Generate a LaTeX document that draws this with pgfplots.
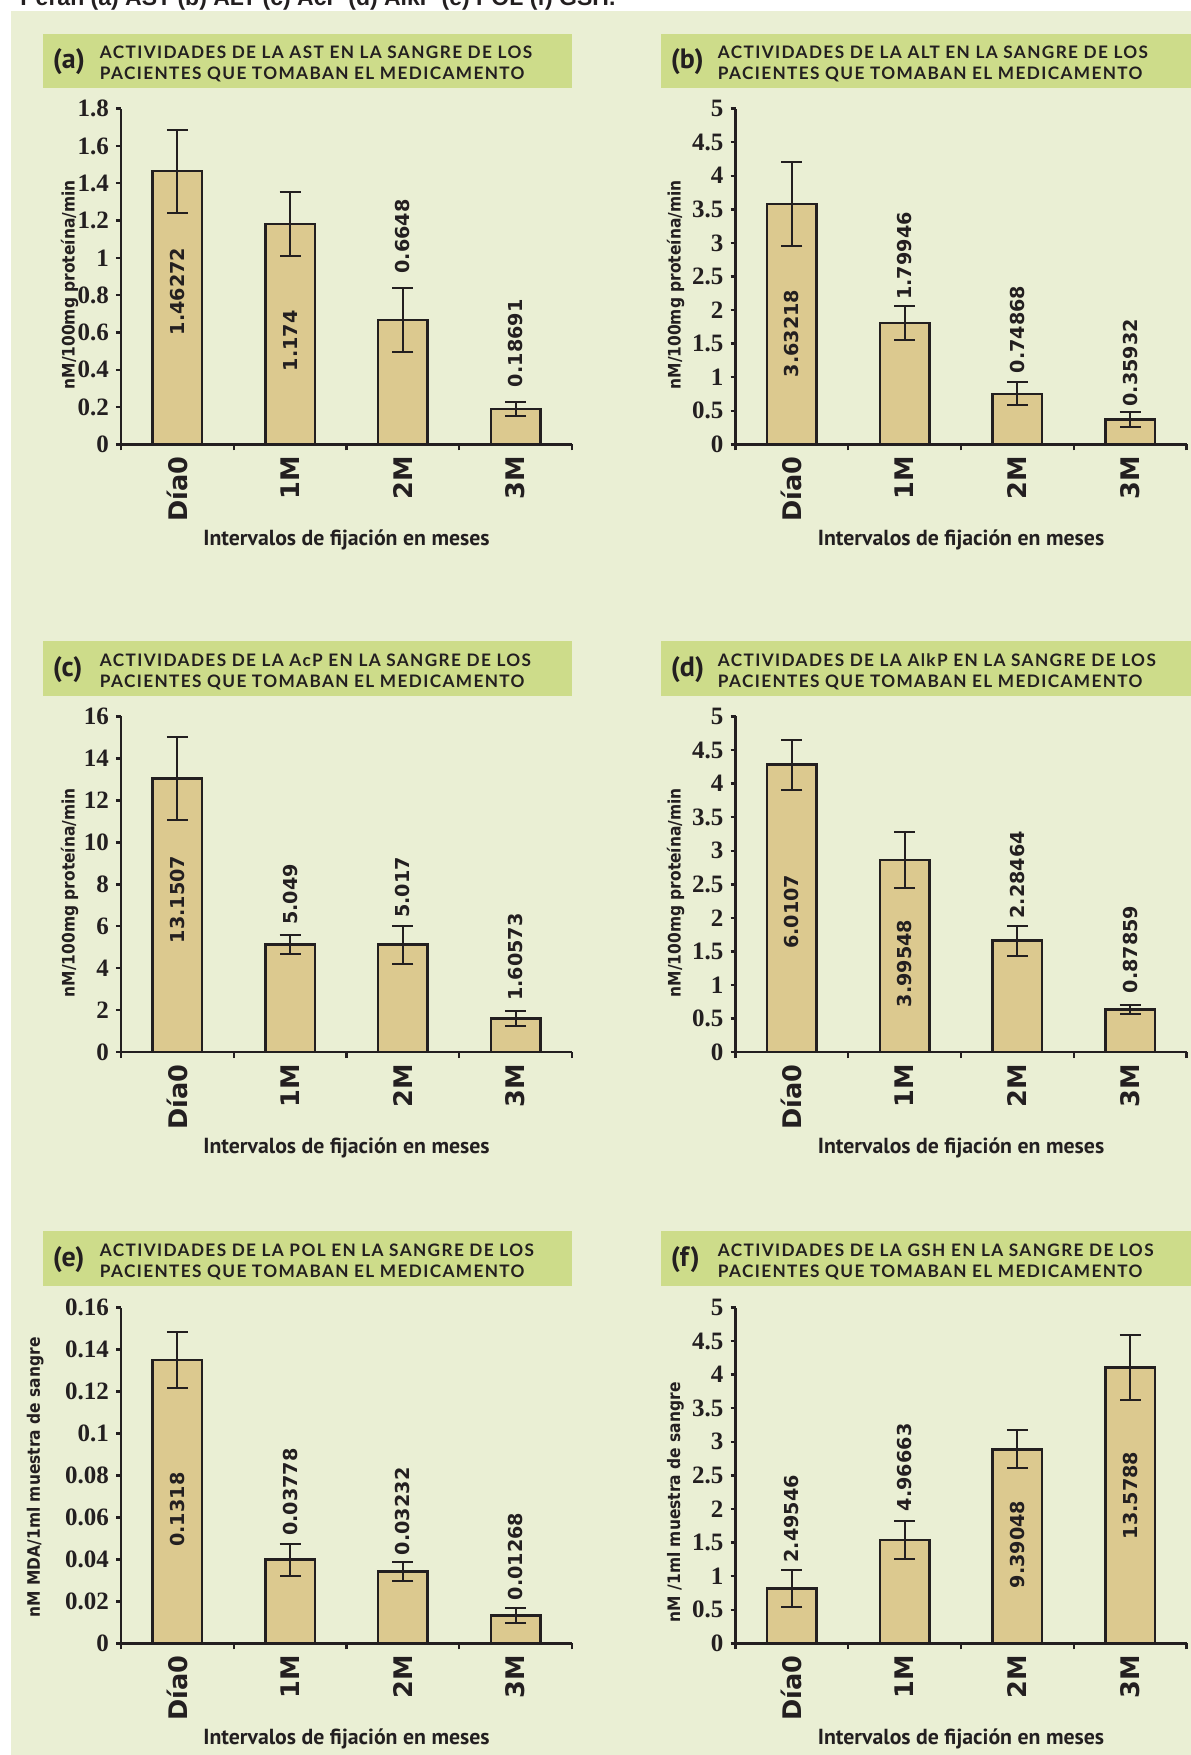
\documentclass[border=0pt]{standalone}
\usepackage{pgfplots}
\pgfplotsset{compat=1.18}
\usepackage{fontspec}
\setmainfont{Liberation Serif}
\newfontfamily\dvs{DejaVu Sans}
\newfontfamily\dvc{DejaVu Sans Condensed}
\newfontfamily\las{Liberation Sans}
\newfontfamily\ltt{Lato}[LetterSpace=8.0]
\newfontfamily\ptn{PT Sans}
\definecolor{bgc}{RGB}{234,239,212}
\definecolor{tboxc}{RGB}{205,220,138}
\definecolor{barc}{RGB}{220,201,143}
\definecolor{ink}{RGB}{35,31,32}

\tikzset{vlab/.style={rotate=90, anchor=center, inner sep=0pt, font=\dvs\bfseries\fontsize{9.6bp}{10bp}\selectfont, text=ink}}

\pgfplotsset{
  panel/.style={
    scale only axis, width=225.5bp, height=167.9bp, anchor=south west,
    axis x line=bottom, axis y line=left,
    axis line style={-, line width=1.2bp, draw=ink},
    ybar, bar width=0.44,
    xmin=-0.5, xmax=3.5, ymin=0,
    xtick={0,1,2,3}, xticklabels={Día0,1M,2M,3M},
    xtick style={draw=none},
    minor xtick={-0.5,0.5,1.5,2.5,3.5},
    minor x tick style={line width=1.2bp, draw=ink},
    ytick style={line width=1.2bp, draw=ink},
    major tick length=2.5bp, minor tick length=3bp,
    tick align=outside,
    xticklabel style={rotate=90, anchor=east, font=\dvs\bfseries\fontsize{12.8bp}{13bp}\selectfont, text=ink},
    yticklabel style={font=\bfseries\fontsize{12.5bp}{12.5bp}\selectfont, text=ink, /pgf/number format/fixed, /pgf/number format/precision=2, /pgf/number format/assume math mode=true},
    scaled y ticks=false,
    xlabel={Intervalos de fijación en meses},
    xlabel style={at={(axis description cs:0.5,-0.285)}, anchor=center, font=\ptn\bfseries\fontsize{10.9bp}{11bp}\selectfont, text=ink},
    every axis y label/.append style={anchor=center, font=\dvc\bfseries\fontsize{8.6bp}{9bp}\selectfont, text=ink},
  },
  barsty/.style={fill=barc, draw=ink, line width=1.3bp,
    error bars/.cd, y dir=both, y explicit,
    error bar style={line width=1bp, draw=ink},
    error mark options={rotate=90, draw=ink, line width=1bp, mark size=5.3bp}},
}

\newcommand{\tbox}[5]{%
  \fill[tboxc] (#1,#2) rectangle ++(#5,-27.4bp);
  \node[anchor=west, inner sep=0pt, xshift=4.95bp, yshift=-13.9bp, font=\ptn\bfseries\fontsize{14bp}{14bp}\selectfont, text=ink] at (#1,#2) {(#3)};
  \node[anchor=north west, inner sep=0pt, align=left, xshift=28.5bp, yshift=-6.19bp, font=\ltt\bfseries\fontsize{8.6bp}{10.5bp}\selectfont, text=ink] at (#1,#2) {ACTIVIDADES DE LA #4 EN LA SANGRE DE LOS\\PACIENTES QUE TOMABAN EL MEDICAMENTO};
}

\begin{document}
\begin{tikzpicture}
\useasboundingbox (0,0) rectangle (595.5bp,-877.5bp);
\clip (0,0) rectangle (595.5bp,-877.5bp);
\fill[white] (0,0) rectangle (595.5bp,-877.5bp);
\fill[bgc] (5.5bp,-5.5bp) rectangle (600bp,-880bp);
\node[anchor=base west, inner sep=0pt, font=\las\bfseries\fontsize{11.5bp}{12bp}\selectfont, text=ink] at (10bp,-2.75bp) {Peran (a) AST (b) ALT (c) AcP (d) AlkP (e) POL (f) GSH.};

\tbox{21.25bp}{-16.8bp}{a}{AST}{264.75bp}
\tbox{330.25bp}{-16.8bp}{b}{ALT}{270bp}
\tbox{21.25bp}{-320.7bp}{c}{AcP}{264.75bp}
\tbox{330.25bp}{-320.7bp}{d}{AlkP}{270bp}
\tbox{21.25bp}{-615.7bp}{e}{POL}{264.75bp}
\tbox{330.25bp}{-615.7bp}{f}{GSH}{270bp}

% (a)
\begin{axis}[panel, at={(60.5bp,-222.2bp)}, ymax=1.8,
  ytick={0,0.2,0.4,0.6,0.8,1,1.2,1.4,1.6,1.8},
  ylabel={nM/100mg proteína/min}, ylabel style={at={(axis description cs:-0.114,0.475)}}]
\addplot[barsty] coordinates {(0,1.465) +- (0,0.222) (1,1.181) +- (0,0.173) (2,0.666) +- (0,0.172) (3,0.190) +- (0,0.037)};
\node[vlab] at (axis cs:0,0.82) {1.46272};
\node[vlab] at (axis cs:1,0.556) {1.174};
\node[vlab] at (axis cs:2,1.114) {0.6648};
\node[vlab] at (axis cs:3,0.542) {0.18691};
\end{axis}

% (b)
\begin{axis}[panel, at={(367.75bp,-222.2bp)}, ymax=5,
  ytick={0,0.5,1,1.5,2,2.5,3,3.5,4,4.5,5},
  ylabel={nM/100mg proteína/min}, ylabel style={at={(axis description cs:-0.133,0.475)}}]
\addplot[barsty] coordinates {(0,3.58) +- (0,0.625) (1,1.81) +- (0,0.252) (2,0.752) +- (0,0.172) (3,0.374) +- (0,0.108)};
\node[vlab] at (axis cs:0,1.65) {3.63218};
\node[vlab] at (axis cs:1,2.806) {1.79946};
\node[vlab] at (axis cs:2,1.709) {0.74868};
\node[vlab] at (axis cs:3,1.216) {0.35932};
\end{axis}

% (c)
\begin{axis}[panel, at={(60.5bp,-526.1bp)}, ymax=16,
  ytick={0,2,4,6,8,10,12,14,16},
  ylabel={nM/100mg proteína/min}, ylabel style={at={(axis description cs:-0.114,0.475)}}]
\addplot[barsty] coordinates {(0,13.03) +- (0,1.98) (1,5.12) +- (0,0.455) (2,5.12) +- (0,0.9) (3,1.61) +- (0,0.345)};
\node[vlab] at (axis cs:0,7.28) {13.1507};
\node[vlab] at (axis cs:1,7.52) {5.049};
\node[vlab] at (axis cs:2,7.85) {5.017};
\node[vlab] at (axis cs:3,4.53) {1.60573};
\end{axis}

% (d)
\begin{axis}[panel, at={(367.75bp,-526.1bp)}, ymax=5,
  ytick={0,0.5,1,1.5,2,2.5,3,3.5,4,4.5,5},
  ylabel={nM/100mg proteína/min}, ylabel style={at={(axis description cs:-0.133,0.475)}}]
\addplot[barsty] coordinates {(0,4.28) +- (0,0.375) (1,2.86) +- (0,0.415) (2,1.66) +- (0,0.22) (3,0.64) +- (0,0.065)};
\node[vlab] at (axis cs:0,2.09) {6.0107};
\node[vlab] at (axis cs:1,1.32) {3.99548};
\node[vlab] at (axis cs:2,2.64) {2.28464};
\node[vlab] at (axis cs:3,1.53) {0.87859};
\end{axis}

% (e)
\begin{axis}[panel, at={(60.5bp,-821.65bp)}, ymax=0.16,
  ytick={0,0.02,0.04,0.06,0.08,0.1,0.12,0.14,0.16},
  ylabel={nM MDA/1ml muestra de sangre}, ylabel style={at={(axis description cs:-0.19,0.494)}}]
\addplot[barsty] coordinates {(0,0.135) +- (0,0.0133) (1,0.0398) +- (0,0.0076) (2,0.0342) +- (0,0.0045) (3,0.0132) +- (0,0.0034)};
\node[vlab] at (axis cs:0,0.0637) {0.1318};
\node[vlab] at (axis cs:1,0.072) {0.03778};
\node[vlab] at (axis cs:2,0.0629) {0.03232};
\node[vlab] at (axis cs:3,0.0414) {0.01268};
\end{axis}

% (f)
\begin{axis}[panel, at={(367.75bp,-821.65bp)}, ymax=5,
  ytick={0,0.5,1,1.5,2,2.5,3,3.5,4,4.5,5},
  ylabel={nM /1ml muestra de sangre}, ylabel style={at={(axis description cs:-0.133,0.42)}}]
\addplot[barsty] coordinates {(0,0.82) +- (0,0.274) (1,1.54) +- (0,0.28) (2,2.89) +- (0,0.285) (3,4.105) +- (0,0.485)};
\node[vlab] at (axis cs:0,1.854) {2.49546};
\node[vlab] at (axis cs:1,2.62) {4.96663};
\node[vlab] at (axis cs:2,1.47) {9.39048};
\node[vlab] at (axis cs:3,2.20) {13.5788};
\end{axis}
\end{tikzpicture}
\end{document}
